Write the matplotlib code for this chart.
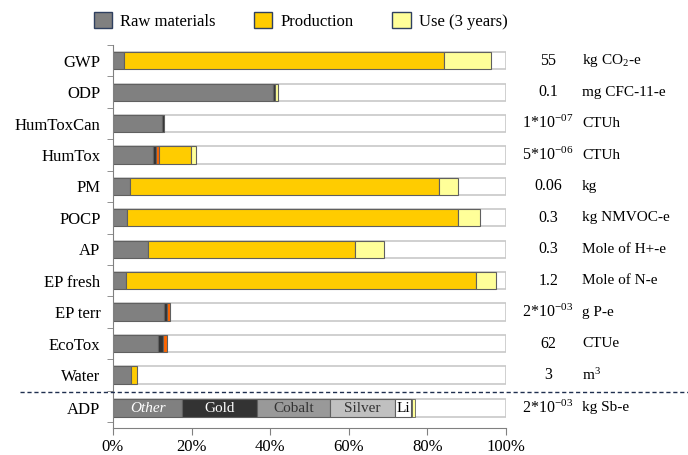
import matplotlib.pyplot as plt
import numpy as np
from matplotlib.patches import Patch

plt.rcParams['font.family'] = ['Liberation Serif', 'DejaVu Serif']
plt.rcParams['mathtext.fontset'] = 'stix'

categories = ['GWP', 'ODP', 'HumToxCan', 'HumTox', 'PM', 'POCP', 'AP',
              'EP fresh', 'EP terr', 'EcoTox', 'Water']
raw = [2.7, 40.8, 12.4, 10.2, 4.4, 3.6, 8.9, 3.4, 12.9, 11.5, 4.7]
dark = [0, 0.3, 0.5, 0.8, 0, 0, 0, 0, 0.8, 1.3, 0]
orange = [0, 0, 0, 0.7, 0, 0, 0, 0, 0.7, 0.85, 0]
production = [81.5, 0, 0, 8.2, 78.5, 84.1, 52.8, 88.9, 0, 0, 1.5]
use = [12.1, 0.9, 0, 1.1, 4.8, 5.7, 7.3, 5.1, 0, 0, 0]

adp_names = ['Other', 'Gold', 'Cobalt', 'Silver', 'Li']
adp_parts = [17.6, 19.1, 18.5, 16.6, 3.9]
adp_dark = 0.4
adp_use = 0.7

totals = ['55', '0.1', r'1*10$^{\mathregular{-07}}$', r'5*10$^{\mathregular{-06}}$',
          '0.06', '0.3', '0.3', '1.2', r'2*10$^{\mathregular{-03}}$', '62', '3',
          r'2*10$^{\mathregular{-03}}$']
units = [r'kg CO$_{\mathregular{2}}$-e', 'mg CFC-11-e', 'CTUh', 'CTUh', 'kg',
         'kg NMVOC-e', 'Mole of H+-e', 'Mole of N-e', 'g P-e', 'CTUe',
         r'm$^{\mathregular{3}}$', 'kg Sb-e']

c_raw = '#808080'
c_dark = '#333333'
c_orange = '#ff6600'
c_prod = '#ffcc00'
c_use = '#ffff99'
edge = '#606060'

fig = plt.figure(figsize=(6.88, 4.55), dpi=100)
ax = fig.add_axes([0.1642, 0.0593, 0.5713, 0.8417])

h = 0.55
y = np.arange(len(categories))
y_adp = len(categories) + 0.05

# white background bars (100%)
ax.barh(list(y) + [y_adp], 100, height=h, color='white', edgecolor='#c8c8c8', lw=1.2, zorder=1)

left = np.zeros(len(categories))
for vals, col in [(raw, c_raw), (dark, c_dark), (orange, c_orange),
                  (production, c_prod), (use, c_use)]:
    vals = np.array(vals)
    m = vals > 0
    ax.barh(y[m], vals[m], left=left[m], height=h, color=col,
            edgecolor=edge, lw=0.8, zorder=2)
    left += vals

adp_cols = [c_raw, c_dark, '#999999', '#c0c0c0', 'white']
adp_txt = ['white', 'white', '#333333', '#333333', 'black']
lft = 0
for name, v, col, tc in zip(adp_names, adp_parts, adp_cols, adp_txt):
    ax.barh(y_adp, v, left=lft, height=h, color=col, edgecolor=edge, lw=0.8, zorder=2)
    ax.text(lft + v / 2, y_adp + 0.03, name, ha='center', va='center', color=tc,
            fontsize=11, style='italic' if name == 'Other' else 'normal', zorder=3)
    lft += v
ax.barh(y_adp, adp_dark, left=lft, height=h, color=c_dark, edgecolor=edge, lw=0.6, zorder=2)
lft += adp_dark
ax.barh(y_adp, adp_use, left=lft, height=h, color=c_use, edgecolor=edge, lw=0.6, zorder=2)

ax.set_xlim(0, 100)
ax.set_ylim(11.69, -0.5)
ax.set_yticks(list(y) + [y_adp])
ax.set_yticklabels(categories + ['ADP'], fontsize=12)
ax.tick_params(axis='y', length=0, pad=9)
ax.set_yticks(np.arange(-0.5, 12, 1), minor=True)
ax.tick_params(axis='y', which='minor', length=4, color='#808080', direction='out')
ax.set_xticks([0, 20, 40, 60, 80, 100])
ax.set_xticklabels(['0%', '20%', '40%', '60%', '80%', '100%'], fontsize=12)
ax.tick_params(axis='x', length=5, color='#808080', pad=3)
for s in ['top', 'right']:
    ax.spines[s].set_visible(False)
for s in ['left', 'bottom']:
    ax.spines[s].set_color('#808080')

for yy, t, u in zip(list(y) + [y_adp], totals, units):
    ax.text(110.7, yy, t, ha='center', va='center', fontsize=11.5, clip_on=False)
    ax.text(119.3, yy, u, ha='left', va='center', fontsize=11, clip_on=False)

# dashed separator across the figure
fig.add_artist(plt.Line2D([20 / 688, 1], [1 - 392 / 455] * 2, transform=fig.transFigure,
                          ls=(0, (3, 2)), color='#1f2f4f', lw=1))

handles = [Patch(facecolor=c_raw, edgecolor='#2f4060'),
           Patch(facecolor=c_prod, edgecolor='#2f4060'),
           Patch(facecolor=c_use, edgecolor='#2f4060')]
fig.legend(handles, ['Raw materials', 'Production', 'Use (3 years)'], ncol=3,
           loc='center', bbox_to_anchor=(0.437, 1 - 21 / 455), frameon=False,
           fontsize=12, handlelength=1.1, handleheight=1.1, columnspacing=2.3,
           handletextpad=0.5)

fig.savefig('out.png', dpi=100)
